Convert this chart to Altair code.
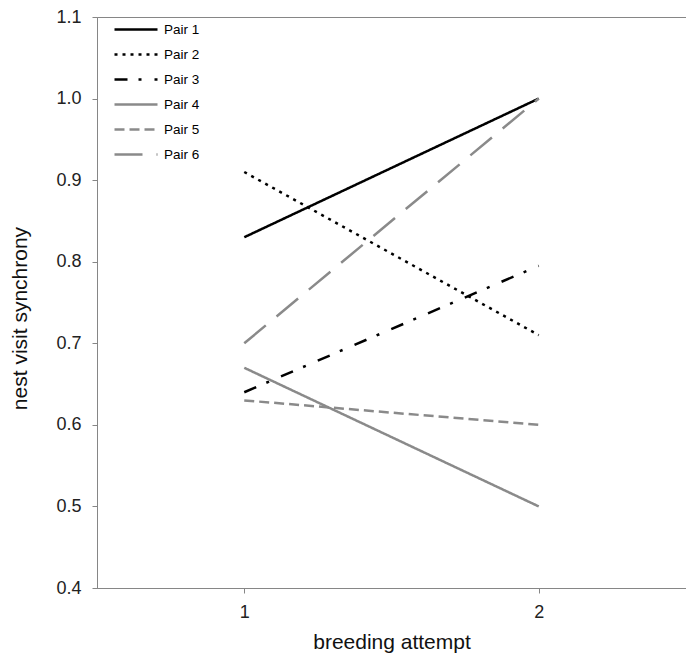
import altair as alt
import pandas as pd

pairs = ["Pair 1", "Pair 2", "Pair 3", "Pair 4", "Pair 5", "Pair 6"]
attempts = [1, 2]
attempt1 = [0.83, 0.91, 0.64, 0.67, 0.63, 0.70]
attempt2 = [1.00, 0.71, 0.795, 0.50, 0.60, 1.00]
colors = ["#000000", "#000000", "#000000", "#8a8a8a", "#8a8a8a", "#8a8a8a"]
dashes = [[1, 0], [3, 5], [13, 11, 3, 13], [1, 0], [10, 5], [28, 14]]
y_ticks = [0.4, 0.5, 0.6, 0.7, 0.8, 0.9, 1.0, 1.1]
x_ticks = [1, 2, 2.5]

rows = []
for p, a, b in zip(pairs, attempt1, attempt2):
    rows.append({"pair": p, "attempt": attempts[0], "value": a})
    rows.append({"pair": p, "attempt": attempts[1], "value": b})
df = pd.DataFrame(rows)

FONT = "Liberation Sans"
AX = "#868686"

legend = alt.Legend(
    title=None, orient="none", legendX=16, legendY=0, padding=0,
    symbolType="stroke", symbolSize=1849, symbolStrokeWidth=2.5,
    clipHeight=25, rowPadding=0, labelFont=FONT, labelFontSize=13.5,
    labelColor="#000000", labelOffset=5,
)

chart = alt.Chart(df).mark_line(strokeWidth=2.5, strokeCap="butt").encode(
    x=alt.X("attempt:Q",
            scale=alt.Scale(domain=[0.5, 2.5], nice=False, zero=False),
            axis=alt.Axis(values=x_ticks, labelOverlap=False, labelFlush=False,
                          labelExpr="datum.value == 1 ? '1' : (datum.value == 2 ? '2' : '')",
                          title="breeding attempt", grid=False, tickSize=5,
                          labelPadding=10, titlePadding=10)),
    y=alt.Y("value:Q",
            scale=alt.Scale(domain=[0.4, 1.1], nice=False, zero=False),
            axis=alt.Axis(values=y_ticks, format=".1f", labelOverlap=False,
                          title="nest visit synchrony",
                          grid=False, tickSize=5, labelPadding=11, titlePadding=25,
                          titleY=301)),
    color=alt.Color("pair:N", scale=alt.Scale(domain=pairs, range=colors), legend=legend),
    strokeDash=alt.StrokeDash("pair:N", scale=alt.Scale(domain=pairs, range=dashes), legend=legend),
).properties(
    width=589, height=571,
    autosize=alt.AutoSizeParams(type="none"),
    padding={"left": 89, "top": 9, "right": 0, "bottom": 66},
).configure_view(
    stroke=AX, strokeWidth=1
).configure_axis(
    domainColor=AX, tickColor=AX, labelFont=FONT, labelFontSize=18,
    labelColor="#222222", titleFont=FONT, titleFontSize=21, titleFontWeight="normal",
    titleColor="#111111",
)

chart.save("out.html", embed_options={"renderer": "svg", "actions": False})
